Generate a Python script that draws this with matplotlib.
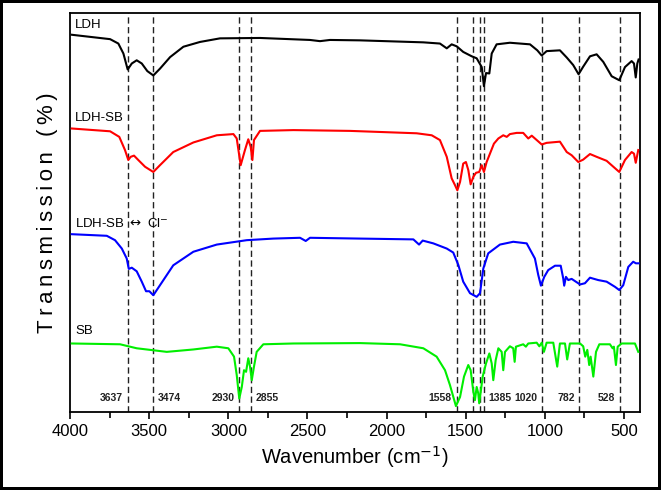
import numpy as np
import matplotlib.pyplot as plt

plt.rcParams['font.family'] = ['Liberation Sans', 'DejaVu Sans']

# FTIR spectra (wavenumber cm-1, offset transmission)
ldh_w = [3989, 3747, 3695, 3663, 3636, 3610, 3579, 3547, 3512, 3474, 3432, 3368, 3284,
         3179, 3053, 2800, 2484, 2421, 2358, 2168, 1768, 1663, 1620, 1589, 1557, 1516,
         1462, 1431, 1399, 1385, 1372, 1351, 1336, 1305, 1221, 1094, 1048, 1020, 989,
         905, 862, 821, 787, 758, 715, 673, 631, 578, 530, 494, 452, 437, 426, 416, 408]
ldh_t = [94.6, 93.5, 92.4, 89.9, 85.9, 87.4, 88.2, 87.4, 85.5, 84.4, 86.1, 89.0, 91.6,
         92.8, 93.7, 93.8, 93.3, 93.0, 93.3, 93.2, 92.7, 92.4, 91.2, 92.2, 91.7, 90.3,
         89.2, 88.7, 86.5, 81.7, 85.0, 84.9, 89.9, 92.2, 92.6, 92.2, 90.7, 89.4, 90.5,
         90.7, 88.9, 87.0, 84.7, 86.6, 89.2, 89.7, 87.8, 84.2, 83.2, 86.5, 88.0, 87.4,
         83.9, 87.4, 88.4]

ldhsb_w = [3989, 3747, 3689, 3653, 3632, 3617, 3596, 3569, 3526, 3474, 3432, 3348, 3221,
           3073, 2968, 2947, 2922, 2895, 2874, 2859, 2848, 2838, 2800, 2589, 2231, 1810,
           1715, 1663, 1620, 1589, 1568, 1553, 1536, 1516, 1499, 1484, 1469, 1452, 1435,
           1415, 1399, 1385, 1368, 1347, 1322, 1294, 1263, 1241, 1221, 1178, 1137, 1105,
           1083, 1020, 989, 905, 862, 831, 789, 758, 715, 673, 610, 530, 494, 452, 437,
           426, 410]
ldhsb_t = [71.1, 70.4, 69.0, 65.7, 63.2, 64.0, 64.3, 63.2, 61.5, 60.2, 61.9, 65.2, 67.6,
           69.4, 69.7, 68.6, 61.9, 65.7, 68.4, 66.5, 63.2, 68.2, 70.5, 70.7, 70.5, 69.9,
           69.4, 68.2, 64.0, 58.6, 56.9, 55.6, 57.7, 62.3, 62.7, 60.7, 57.1, 59.0, 60.0,
           60.2, 61.9, 60.2, 62.7, 64.8, 67.3, 68.6, 69.4, 69.0, 69.7, 70.0, 70.0, 68.6,
           69.3, 67.1, 67.5, 67.8, 65.2, 64.4, 62.7, 63.3, 64.7, 64.0, 63.0, 60.2, 63.2,
           65.2, 64.8, 62.5, 65.7]

ldhcl_w = [3989, 3768, 3716, 3673, 3642, 3629, 3610, 3579, 3547, 3520, 3499, 3474, 3432,
           3348, 3221, 3073, 2884, 2716, 2547, 2511, 2484, 2168, 1831, 1795, 1772, 1705,
           1620, 1579, 1547, 1516, 1473, 1431, 1410, 1389, 1358, 1284, 1200, 1115, 1063,
           1042, 1025, 1004, 979, 936, 900, 884, 878, 867, 852, 831, 778, 747, 715, 698,
           663, 610, 557, 530, 505, 473, 442, 425, 408]
ldhcl_t = [44.6, 44.2, 43.1, 41.0, 38.5, 35.9, 36.2, 35.3, 32.7, 30.3, 30.3, 29.3, 31.8,
           36.8, 40.2, 42.0, 43.1, 43.5, 43.7, 42.9, 43.7, 43.5, 43.3, 42.0, 43.0, 42.3,
           41.0, 40.0, 36.9, 32.7, 29.8, 28.9, 29.8, 36.0, 39.8, 42.0, 42.7, 42.3, 38.5,
           34.4, 31.7, 33.9, 35.6, 36.7, 36.7, 33.5, 31.7, 33.9, 33.1, 33.4, 32.0, 32.3,
           33.7, 33.5, 33.1, 32.7, 31.4, 30.6, 31.8, 36.4, 37.7, 37.3, 37.3]

sb_w = [3989, 3684, 3579, 3389, 3221, 3073, 3000, 2964, 2947, 2931, 2915, 2901, 2888,
        2874, 2863, 2852, 2838, 2821, 2779, 2589, 2168, 1915, 1768, 1684, 1631, 1600,
        1562, 1536, 1511, 1484, 1469, 1452, 1442, 1431, 1421, 1415, 1404, 1393, 1372,
        1351, 1336, 1326, 1311, 1294, 1273, 1263, 1252, 1221, 1200, 1191, 1183, 1137,
        1120, 1105, 1052, 1035, 1020, 1006, 989, 947, 922, 905, 873, 859, 842, 778, 758,
        745, 732, 720, 711, 694, 677, 656, 589, 572, 564, 551, 540, 515, 431, 410]
sb_t = [17.2, 17.0, 16.0, 15.1, 15.7, 16.4, 16.0, 13.9, 9.3, 3.4, 6.3, 10.5, 10.1,
        13.5, 11.4, 8.0, 11.4, 15.1, 17.0, 17.2, 17.3, 17.0, 16.0, 13.9, 10.5, 6.8,
        1.5, 3.8, 8.9, 11.8, 10.5, 5.1, 3.0, 6.3, 4.7, 2.2, 5.5, 8.9, 12.2,
        14.7, 12.2, 8.0, 13.0, 16.0, 15.1, 10.5, 15.1, 16.5, 16.0, 12.6, 16.4, 17.0,
        16.4, 17.2, 17.4, 16.5, 17.4, 15.1, 17.4, 17.4, 11.4, 17.2, 17.2, 13.2, 17.2, 17.2, 16.5,
        13.9, 15.6, 11.8, 13.9, 8.9, 15.1, 17.0, 17.0, 16.0, 16.4, 11.8, 16.4, 17.2, 17.2, 15.1]

series = [
    ("LDH", ldh_w, ldh_t, "black", 97.0),
    ("LDH-SB", ldhsb_w, ldhsb_t, "#ff0000", 73.7),
    (r"LDH-SB $\leftrightarrow$ Cl$^{-}$", ldhcl_w, ldhcl_t, "#0000ff", 47.4),
    ("SB", sb_w, sb_t, "#00ee00", 20.3),
]

guide_lines = [3637, 3474, 2930, 2855, 1558, 1454, 1410, 1385, 1020, 782, 528]
# side = where the number sits relative to its dashed line
peak_labels = [(3637, "left"), (3474, "right"), (2930, "left"), (2855, "right"),
               (1558, "left"), (1385, "right"), (1020, "left"), (782, "left"), (528, "left")]

fig = plt.figure(figsize=(6.61, 4.90), dpi=100, edgecolor="black", linewidth=3)
ax = fig.add_axes([0.106, 0.159, 0.862, 0.814])

for w in guide_lines:
    ax.axvline(w, color="#222222", ls=(0, (4.5, 2.5)), lw=1.0, zorder=1)

for name, w, t, c, ly in series:
    ax.plot(w, t, color=c, lw=1.5, zorder=3)
    ax.text(3968, ly, name, fontsize=9.5, ha="left", va="center", color="black")

for w, side in peak_labels:
    if side == "left":
        ax.text(w + 30, 3.5, str(w), fontsize=7.5, fontweight="bold", ha="right",
                va="center", color="#222222")
    else:
        ax.text(w - 25, 3.5, str(w), fontsize=7.5, fontweight="bold", ha="left",
                va="center", color="#222222")

ax.set_xlim(4000, 400)
ax.set_ylim(0, 100)
ax.set_xticks(np.arange(4000, 499, -500))
ax.set_xticks(np.arange(3750, 399, -500), minor=True)
ax.set_yticks([])
ax.tick_params(axis="x", which="major", direction="out", length=5, width=1.2, labelsize=12)
ax.tick_params(axis="x", which="minor", direction="out", length=4, width=1.2)
for sp in ax.spines.values():
    sp.set_linewidth(1.3)

ax.set_xlabel("Wavenumber (cm$^{-1}$)", fontsize=14.5, labelpad=4)
ax.set_ylabel("\u2009".join("Transmission") + "\u2009 \u2009" + "\u2009".join("(%)"),
              fontsize=16, labelpad=9)

fig.savefig("out.png", dpi=100)
